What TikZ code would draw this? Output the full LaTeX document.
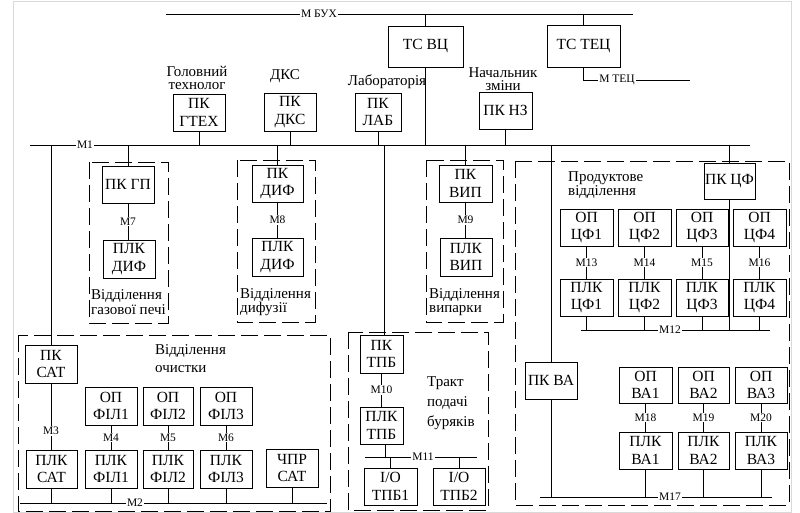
\documentclass[tikz,border=0pt]{standalone}
\usepackage{fontspec}
\setmainfont{Liberation Serif}
\newcommand\Bx[6]{\node[bx, minimum width={(#4-#2)*1pt}, minimum height={(#5-#3)*1pt}] (#1) at ({(#2+#4)/2},{(#3+#5)/2}) {#6};}
\begin{document}
\begin{tikzpicture}[x=1pt,y=-1pt,
 bx/.style={draw, line width=0.8pt, inner sep=0pt, align=center, font=\fontsize{15.5}{17.5}\selectfont},
 dbox/.style={draw, line width=0.8pt, dash pattern=on 17pt off 6pt},
 ln/.style={line width=0.8pt},
 ml/.style={fill=white, inner sep=1pt, font=\fontsize{11.5}{12}\selectfont},
 lbl/.style={inner sep=0pt, align=left, font=\fontsize{15}{14.5}\selectfont},
 lblc/.style={inner sep=0pt, align=center, font=\fontsize{15}{13.5}\selectfont}]
\useasboundingbox (0,0) rectangle (800,513);
\draw[gray!30, line width=0.6pt] (13,1) rectangle (791,512);
% dashed areas
\draw[dbox] (89,162) rectangle (168,323);
\draw[dbox] (237,160) rectangle (315,322);
\draw[dbox] (426,160) rectangle (503,322);
\draw[dbox] (515,161) rectangle (789,505);
\draw[dbox] (348,332) rectangle (488,510);
\draw[dbox] (18,335) rectangle (330,511);
% boxes
\Bx{tcvc}{388}{26}{463}{67}{ТС ВЦ}
\Bx{tctec}{547}{25}{620}{67}{ТС ТЕЦ}
\Bx{gtex}{173}{94}{225}{131}{ПК\\ГТЕХ}
\Bx{dks}{264}{93}{316}{131}{ПК\\ДКС}
\Bx{lab}{355}{93}{401}{131}{ПК\\ЛАБ}
\Bx{nz}{479}{92}{532}{129}{ПК НЗ}
\Bx{gp}{102}{166}{154}{203}{ПК ГП}
\Bx{pdifa}{103}{240}{155}{278}{ПЛК\\ДИФ}
\Bx{kdif}{252}{165}{303}{202}{ПК\\ДИФ}
\Bx{pdifb}{252}{238}{303}{276}{ПЛК\\ДИФ}
\Bx{kvip}{439}{165}{492}{202}{ПК\\ВИП}
\Bx{pvip}{440}{238}{492}{276}{ПЛК\\ВИП}
\Bx{kcf}{704}{163}{755}{199}{ПК ЦФ}
\Bx{opcfa}{560}{209}{613}{246}{ОП\\ЦФ1}
\Bx{opcfb}{618}{209}{671}{246}{ОП\\ЦФ2}
\Bx{opcfc}{676}{209}{728}{246}{ОП\\ЦФ3}
\Bx{opcfd}{733}{209}{786}{246}{ОП\\ЦФ4}
\Bx{plcfa}{560}{279}{613}{316}{ПЛК\\ЦФ1}
\Bx{plcfb}{618}{279}{671}{316}{ПЛК\\ЦФ2}
\Bx{plcfc}{676}{279}{728}{316}{ПЛК\\ЦФ3}
\Bx{plcfd}{733}{279}{786}{316}{ПЛК\\ЦФ4}
\Bx{kva}{525}{362}{577}{399}{ПК ВА}
\Bx{opvaa}{619}{367}{672}{403}{ОП\\ВА1}
\Bx{opvab}{678}{367}{729}{403}{ОП\\ВА2}
\Bx{opvac}{735}{367}{787}{403}{ОП\\ВА3}
\Bx{plvaa}{619}{432}{672}{469}{ПЛК\\ВА1}
\Bx{plvab}{678}{432}{729}{469}{ПЛК\\ВА2}
\Bx{plvac}{735}{432}{787}{469}{ПЛК\\ВА3}
\Bx{ksat}{25}{345}{77}{383}{ПК\\САТ}
\Bx{opfa}{85}{387}{137}{425}{ОП\\ФІЛ1}
\Bx{opfb}{143}{387}{193}{425}{ОП\\ФІЛ2}
\Bx{opfc}{200}{387}{252}{425}{ОП\\ФІЛ3}
\Bx{plsat}{26}{450}{77}{488}{ПЛК\\САТ}
\Bx{plfa}{85}{450}{137}{488}{ПЛК\\ФІЛ1}
\Bx{plfb}{143}{450}{193}{488}{ПЛК\\ФІЛ2}
\Bx{plfc}{200}{450}{252}{488}{ПЛК\\ФІЛ3}
\Bx{chpr}{266}{449}{318}{487}{ЧПР\\САТ}
\Bx{ktpb}{360}{335}{403}{373}{ПК\\ТПБ}
\Bx{pltpb}{360}{407}{403}{444}{ПЛК\\ТПБ}
\Bx{ioa}{364}{468}{417}{505}{I/O\\ТПБ1}
\Bx{iob}{433}{468}{485}{505}{I/O\\ТПБ2}
% bus coordinates
\coordinate (mbL) at (166,14); \coordinate (mbR) at (633,14);
\coordinate (m1L) at (30,145); \coordinate (m1R) at (750,145);
\coordinate (m12L) at (581,330); \coordinate (m12R) at (770,330);
\coordinate (m17L) at (540,497); \coordinate (m17R) at (772,497);
\coordinate (m11L) at (365,457); \coordinate (m11R) at (477,457);
\coordinate (m2L) at (20,503); \coordinate (m2R) at (327,503);
\coordinate (mtR) at (690,80);
\draw[ln] (mbL) -- (mbR);
\draw[ln] (m1L) -- (m1R);
\draw[ln] (m12L) -- (m12R);
\draw[ln] (m17L) -- (m17R);
\draw[ln] (m11L) -- (m11R);
\draw[ln] (m2L) -- (m2R);
% top
\draw[ln] (tcvc.north) -- (tcvc.north |- mbL);
\draw[ln] (tctec.north) -- (tctec.north |- mbL);
\draw[ln] (tcvc.south) -- (tcvc.south |- m1L);
\draw[ln] (tctec.south) -- (tctec.south |- mtR) -- (mtR);
\node[ml] (mbux) at (319,14) {M БУХ};
\node[ml] (mtec) at (617,80) {M ТЕЦ};
\node[ml] (m1) at (85,145) {M1};
\draw[ln] (gtex.south) -- (gtex.south |- m1L);
\draw[ln] (dks.south) -- (dks.south |- m1L);
\draw[ln] (lab.south) -- (lab.south |- m1L);
\draw[ln] (nz.south) -- (nz.south |- m1L);
% drops from M1
\draw[ln] (ksat.north) -- (ksat.north |- m1L);
\draw[ln] (gp.north) -- (gp.north |- m1L);
\draw[ln] (kdif.north) -- (kdif.north |- m1L);
\draw[ln] ([xshift=2.5pt]ktpb.north) -- ([xshift=2.5pt]ktpb.north |- m1L);
\draw[ln] (kvip.north) -- (kvip.north |- m1L);
\draw[ln] (kva.north) -- (kva.north |- m1L);
\draw[ln] (kcf.north) -- (kcf.north |- m1L);
% department links
\draw[ln] (gp.south) -- (gp.south |- pdifa.north) node[midway, ml] (m7) {M7};
\draw[ln] (kdif.south) -- (kdif.south |- pdifb.north) node[midway, ml] (m8) {M8};
\draw[ln] (kvip.south) -- (kvip.south |- pvip.north) node[midway, ml] (m9) {M9};
% product dept
\draw[ln] (kcf.south) -- (kcf.south |- m12L);
\draw[ln] (opcfa.south) -- (opcfa.south |- plcfa.north) node[midway, ml] (m13) {M13};
\draw[ln] (opcfb.south) -- (opcfb.south |- plcfb.north) node[midway, ml] (m14) {M14};
\draw[ln] (opcfc.south) -- (opcfc.south |- plcfc.north) node[midway, ml] (m15) {M15};
\draw[ln] (opcfd.south) -- (opcfd.south |- plcfd.north) node[midway, ml] (m16) {M16};
\foreach \n in {plcfa,plcfb,plcfc,plcfd} \draw[ln] (\n.south) -- (\n.south |- m12L);
\node[ml] (m12) at (670,330) {M12};
% VA
\draw[ln] (kva.south) -- (kva.south |- m17L);
\draw[ln] (opvaa.south) -- (opvaa.south |- plvaa.north) node[midway, ml] (m18) {M18};
\draw[ln] (opvab.south) -- (opvab.south |- plvab.north) node[midway, ml] (m19) {M19};
\draw[ln] (opvac.south) -- (opvac.south |- plvac.north) node[midway, ml] (m20) {M20};
\foreach \n in {plvaa,plvab,plvac} \draw[ln] (\n.south) -- (\n.south |- m17L);
\node[ml] (m17) at (670,497) {M17};
% TPB
\draw[ln] (ktpb.south) -- (ktpb.south |- pltpb.north) node[midway, ml] (m10) {M10};
\draw[ln] ([xshift=4pt]pltpb.south) -- ([xshift=4pt]pltpb.south |- m11L);
\draw[ln] (ioa.north) -- (ioa.north |- m11L);
\draw[ln] (iob.north) -- (iob.north |- m11L);
\node[ml] (m11) at (423,457) {M11};
% cleaning
\draw[ln] (ksat.south) -- (ksat.south |- plsat.north) node[pos=0.72, ml] (m3) {M3};
\draw[ln] (opfa.south) -- (opfa.south |- plfa.north) node[midway, ml] (m4) {M4};
\draw[ln] (opfb.south) -- (opfb.south |- plfb.north) node[midway, ml] (m5) {M5};
\draw[ln] (opfc.south) -- (opfc.south |- plfc.north) node[midway, ml] (m6) {M6};
\foreach \n in {plsat,plfa,plfb,plfc,chpr} \draw[ln] (\n.south) -- (\n.south |- m2L);
\node[ml] (m2) at (135,503) {M2};
% texts
\node[lblc] (tgt) at (197,78) {Головний\\технолог};
\node[lblc] (tdks) at (285,76) {ДКС};
\node[lblc] (tlab) at (387,82) {Лабораторія};
\node[lblc] (tnz) at (503,79) {Начальник\\зміни};
\node[lbl, anchor=west] (tgas) at (91,302) {Відділення\\газової печі};
\node[lbl, anchor=west] (tdif) at (240,302) {Відділення\\дифузії};
\node[lbl, anchor=west] (tvip) at (429,302) {Відділення\\випарки};
\node[lbl, anchor=west, font=\fontsize{15}{14}\selectfont] (tprod) at (568,185) {Продуктове\\відділення};
\node[lbl, anchor=west, font=\fontsize{15}{18}\selectfont] (toch) at (155,359) {Відділення\\очистки};
\node[lbl, anchor=west, font=\fontsize{15}{20}\selectfont] (ttpb) at (427,403) {Тракт\\подачі\\буряків};
\end{tikzpicture}
\end{document}
